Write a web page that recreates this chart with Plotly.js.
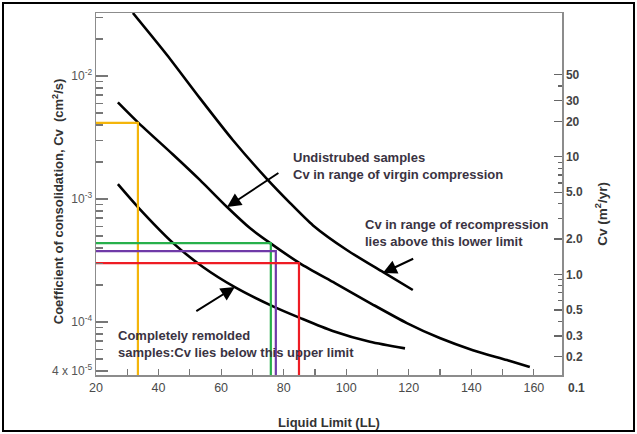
<!DOCTYPE html>
<html>
<head>
<meta charset="utf-8">
<script src="https://cdn.plot.ly/plotly-3.0.1.min.js"></script>
<style>
  html, body { margin: 0; padding: 0; background: #fff; }
  #wrap { position: relative; width: 637px; height: 434px; }
  #chart { width: 637px; height: 434px; }
  #frame { position: absolute; left: 2px; top: 2px; width: 629px; height: 426px;
           border: 2px solid #000; pointer-events: none; }
</style>
</head>
<body>
<div id="wrap">
  <div id="chart"></div>
  <div id="frame"></div>
</div>
<script>
// Liquid limit (LL) vs coefficient of consolidation Cv (cm^2/s)

// Lower limit of Cv in the range of recompression
const recompLL = [31.8, 42.7, 53.2, 63.8, 74.7, 82.0, 89.4, 100.2, 111.7, 121.3];
const recompCv = [3.25e-2, 1.48e-2, 6.6e-3, 3.0e-3, 1.45e-3, 9.3e-4, 6.1e-4, 3.85e-4, 2.55e-4, 1.82e-4];

// Undisturbed samples, Cv in the range of virgin compression
const virginLL = [27.0, 33.4, 44.6, 53.2, 61.9, 69.2, 75.6, 85.2, 96.4, 108.2, 119.4, 129.9, 140.5, 151.4, 158.7];
const virginCv = [6.1e-3, 4.2e-3, 2.3e-3, 1.43e-3, 8.6e-4, 5.8e-4, 4.4e-4, 3.0e-4, 2.07e-4, 1.40e-4, 9.8e-5, 7.4e-5, 5.9e-5, 4.9e-5, 4.3e-5];

// Completely remolded samples, upper limit of Cv
const remoldLL = [27.0, 33.4, 44.6, 54.2, 64.4, 76.6, 85.2, 95.7, 107.6, 118.8];
const remoldCv = [1.32e-3, 8.6e-4, 4.4e-4, 2.8e-4, 1.92e-4, 1.34e-4, 1.08e-4, 8.45e-5, 6.9e-5, 6.1e-5];

// Readings taken off the virgin compression curve
const readLL = [33.4, 75.9, 77.5, 84.9];
const readCv = [4.15e-3, 4.38e-4, 3.77e-4, 3.01e-4];
const readColors = ['#f4b50a', '#27b04b', '#6f3aa8', '#ee1c24'];

// Tick labels
const xTicks = [20, 40, 60, 80, 100, 120, 140, 160];
const xMinor = [30, 50, 70, 90, 110, 130, 150];
const cvTicks = [1e-2, 1e-3, 1e-4, 4e-5];
const cvTickText = ['10<sup>-2</sup>', '10<sup>-3</sup>', '10<sup>-4</sup>', '4 x 10<sup>-5</sup>'];
const cvMinor = [3e-2, 2e-2, 9e-3, 8e-3, 7e-3, 6e-3, 5e-3, 4e-3, 3e-3, 2e-3,
                 9e-4, 8e-4, 7e-4, 6e-4, 5e-4, 4e-4, 3e-4, 2e-4,
                 9e-5, 8e-5, 7e-5, 6e-5, 5e-5];
const yrTicks = [50, 30, 20, 10, 5, 2, 1, 0.5, 0.3, 0.2];
const yrTickText = ['50', '30', '20', '10', '5.0', '2.0', '1.0', '0.5', '0.3', '0.2'];
const yrMinor = [40, 9, 8, 7, 6, 4, 3, 0.9, 0.8, 0.7, 0.6, 0.4];
const yrBottomLabel = 0.1;

const xRange = [20, 169];
const yLogRange = [-4.431, -1.488];
const y2LogRange = [-0.854, 2.222];

const curve = (x, y) => ({
  x: x, y: y, type: 'scatter', mode: 'lines',
  line: { color: '#000', width: 2.6, shape: 'spline', smoothing: 0.7 },
  hoverinfo: 'skip', showlegend: false
});

const traces = [curve(recompLL, recompCv), curve(virginLL, virginCv), curve(remoldLL, remoldCv)];

// Each reading: horizontal from the Cv axis, then straight down to the LL axis
const yBottom = Math.pow(10, yLogRange[0] - 0.1);
readLL.forEach((ll, i) => {
  traces.push({
    x: [xRange[0], ll, ll], y: [readCv[i], readCv[i], yBottom],
    type: 'scatter', mode: 'lines',
    line: { color: readColors[i], width: 2.2 },
    hoverinfo: 'skip', showlegend: false
  });
});

// empty trace so the right-hand Cv (m2/yr) axis is built
traces.push({ x: [], y: [], type: 'scatter', yaxis: 'y2', showlegend: false });

const axisGray = '#8c8c8c';
const txt = '#3a3342';
const fontFam = '"Liberation Sans", Arial, sans-serif';

const arrow = (hx, hy, tx, ty) => ({
  x: hx, y: hy, ax: tx, ay: ty, xref: 'x', yref: 'y', axref: 'x', ayref: 'y',
  text: '', showarrow: true, arrowhead: 2, arrowsize: 1.4, arrowwidth: 2, arrowcolor: '#000'
});

const note = (x, y, text) => ({
  x: x, y: y, xref: 'x', yref: 'y', xanchor: 'left', yanchor: 'top', align: 'left',
  text: text, showarrow: false,
  font: { family: fontFam, size: 13, color: txt, weight: 'bold' }
});

// paper position of the 0.1 m2/yr label, just under the plot floor
const bottomLabelY = (Math.log10(yrBottomLabel) - y2LogRange[0]) / (y2LogRange[1] - y2LogRange[0]);

const layout = {
  width: 637, height: 434,
  margin: { l: 96, r: 75, t: 13, b: 59 },
  paper_bgcolor: '#fff', plot_bgcolor: '#fff',
  font: { family: fontFam, size: 12, color: '#444' },
  showlegend: false,
  xaxis: {
    range: xRange, showgrid: false, zeroline: false,
    showline: true, linecolor: axisGray, linewidth: 1.5, mirror: true,
    ticks: 'inside', ticklen: 6, tickwidth: 1.2, tickcolor: '#777',
    tickmode: 'array', tickvals: xTicks, ticktext: xTicks.map(String),
    minor: { tickmode: 'array', tickvals: xMinor, ticks: 'inside', ticklen: 6, tickwidth: 1.2, tickcolor: '#777', showgrid: false },
    tickfont: { family: fontFam, size: 12.5, color: '#4a4a4a' },
    title: { text: '<b>Liquid Limit (LL)</b>', font: { family: fontFam, size: 13, color: '#333' }, standoff: 24 }
  },
  yaxis: {
    type: 'log', range: yLogRange, showgrid: false, zeroline: false,
    showline: true, linecolor: axisGray, linewidth: 1.5, mirror: false,
    ticks: 'inside', ticklen: 12, tickwidth: 1.2, tickcolor: '#777',
    tickmode: 'array', tickvals: cvTicks, ticktext: cvTickText,
    minor: { tickmode: 'array', tickvals: cvMinor, ticks: 'inside', ticklen: 7, tickwidth: 1.2, tickcolor: '#777', showgrid: false },
    tickfont: { family: fontFam, size: 12, color: '#555' }
  },
  yaxis2: {
    type: 'log', range: y2LogRange, overlaying: 'y', side: 'right', anchor: 'x',
    showgrid: false, zeroline: false,
    showline: true, linecolor: axisGray, linewidth: 1.5,
    ticks: 'inside', ticklen: 8, tickwidth: 1.2, tickcolor: '#666',
    tickmode: 'array', tickvals: yrTicks, ticktext: yrTickText,
    minor: { tickmode: 'array', tickvals: yrMinor, ticks: 'inside', ticklen: 4, tickwidth: 1.2, tickcolor: '#666', showgrid: false },
    tickfont: { family: fontFam, size: 12, color: '#444', weight: 'bold' }
  },
  annotations: [
    // axis titles
    { xref: 'paper', yref: 'paper', x: -0.103, y: 0.48, textangle: -90, showarrow: false,
      text: 'Coefficient of consolidation, Cv  (cm<sup>2</sup>/s)',
      font: { family: fontFam, size: 13, color: '#333', weight: 'bold' } },
    { xref: 'paper', yref: 'paper', x: 1.107, y: 0.445, textangle: -90, showarrow: false,
      text: 'Cv (m<sup>2</sup>/yr)',
      font: { family: fontFam, size: 13.5, color: '#333', weight: 'bold' } },
    // bottom label of the m2/yr scale
    { xref: 'paper', yref: 'paper', x: 1, y: bottomLabelY, xanchor: 'left', xshift: 4, yshift: -5,
      showarrow: false, text: String(yrBottomLabel),
      font: { family: fontFam, size: 12, color: '#444', weight: 'bold' } },
    // curve labels
    note(82.3, -2.586, 'Undistrubed samples<br>Cv in range of virgin compression'),
    note(105.3, -3.130, 'Cv in range of recompression<br>lies above this lower limit'),
    note(26.4, -4.033, 'Completely remolded<br>samples:Cv lies below this upper limit'),
    // pointers to the curves
    arrow(61.9, -3.065, 78.8, -2.781),
    arrow(111.7, -3.602, 121.9, -3.480),
    arrow(64.4, -3.716, 51.6, -3.919)
  ]
};

Plotly.newPlot('chart', traces, layout, { displayModeBar: false, staticPlot: true });
</script>
</body>
</html>
